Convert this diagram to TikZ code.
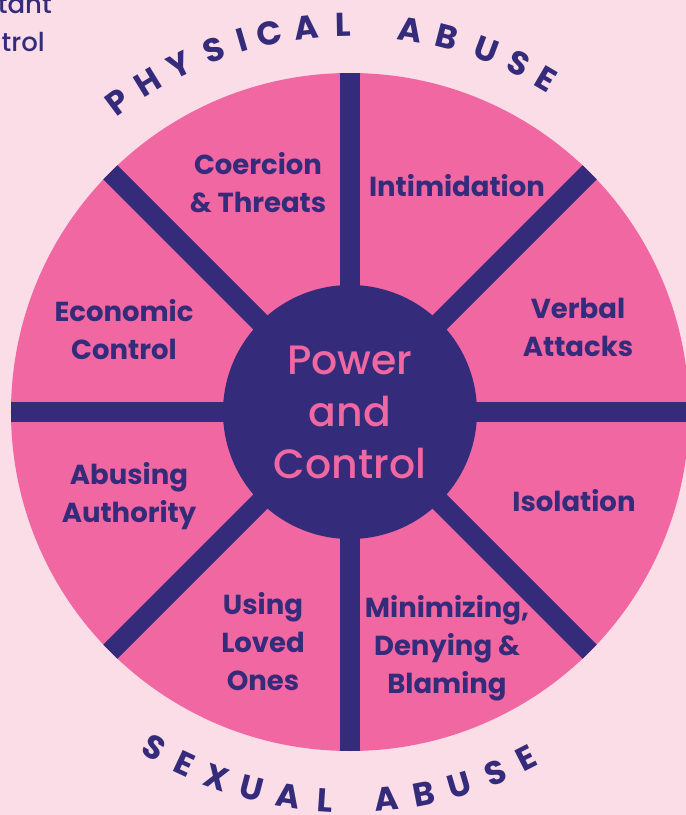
\documentclass[tikz,border=0pt]{standalone}
\usepackage{fontspec}
\setmainfont{Poppins}
\newfontfamily\hubfont{Poppins}[UprightFont=* Medium]
\definecolor{blush}{HTML}{FBDDE7}
\definecolor{wheelpink}{HTML}{F067A1}
\definecolor{navy}{HTML}{352B7B}
\tikzset{
  spoke/.style={navy, line width=20pt},
  sector/.style={text=navy, font=\fontsize{27.5}{38}\selectfont\bfseries, align=center, inner sep=0pt},
  arcletter/.style={text=navy, font=\fontsize{33}{33}\selectfont\bfseries, inner sep=0pt},
  cuttext/.style={anchor=base east, text=navy, font=\hubfont\fontsize{26}{26}\selectfont, inner sep=0pt}
}
\begin{document}
\begin{tikzpicture}[x=1pt,y=1pt]
\fill[blush] (-350,-403) rectangle (336,412);
\useasboundingbox (-350,-403) rectangle (336,412);
\node[cuttext] (cutA) at (-298,399) {tant};
\node[cuttext] (cutB) at (-305,360) {trol};
\fill[wheelpink] (0,0) circle (339);
\coordinate (c) at (0,0);
\foreach \a in {0,45,...,315}
  \draw[spoke] (c) -- (\a:339) coordinate (rim\a);
\node[circle, fill=navy, minimum size=254pt, inner sep=0pt, text=wheelpink,
  font=\hubfont\fontsize{41}{52}\selectfont, align=center] (hub) at (0,0) {Power\\and\\Control};
\node[sector] (coercion) at (-92,229) {Coercion\\\& Threats};
\node[sector] (intim) at (107,226) {Intimidation};
\node[sector] (verbal) at (228,85) {Verbal\\Attacks};
\node[sector] (econ) at (-226,82) {Economic\\Control};
\node[sector] (isol) at (224,-89) {Isolation};
\node[sector] (authority) at (-221,-84) {Abusing\\Authority};
\node[sector] (loved) at (-87,-230) {Using\\Loved\\Ones};
\node[sector] (minim) at (97,-236) {Minimizing,\\Denying \&\\Blaming};
\foreach \ch/\ang [count=\i] in {P/126.9,H/121.5,Y/116.2,S/110.6,I/106.2,C/102.1,A/96.5,L/91.0,A/81.0,B/75.5,U/69.4,S/64.2,E/59.5}
  \node[arcletter, rotate=\ang-90] (phys\i) at (\ang:387) {\ch};
\foreach \ch/\ang [count=\i] in {S/239.7,E/244.8,X/250.0,U/255.4,A/260.9,L/266.3,A/275.4,B/281.0,U/286.4,S/291.9,E/297.0}
  \node[arcletter, rotate=\ang+90] (sex\i) at (\ang:389) {\ch};
\end{tikzpicture}
\end{document}
